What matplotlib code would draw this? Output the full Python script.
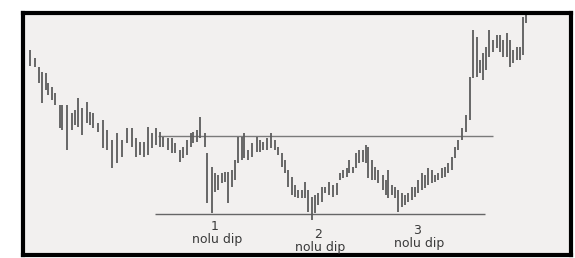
import matplotlib
matplotlib.use("Agg")
import matplotlib.pyplot as plt

# bar positions (time) and high / low prices
t = [30, 35, 39, 42, 46, 48, 52, 55, 60, 62, 67, 72, 75, 78, 82, 87, 90, 93, 98, 103,
     107, 112, 117, 122, 127, 132, 136, 140, 144, 148, 152, 156, 160, 163, 168, 172, 175, 180, 183, 187,
     191, 193, 197, 200, 205, 207, 212, 215, 218, 222, 225, 228, 232, 235, 238, 242, 244, 248, 252, 257,
     260, 263, 267, 271, 275, 278, 282, 285, 288, 292, 295, 298, 302, 305, 308, 312, 315, 318, 322, 325,
     329, 333, 337, 340, 343, 347, 349, 353, 356, 359, 363, 366, 368, 372, 375, 378, 383, 386, 388, 392,
     395, 398, 402, 405, 408, 412, 415, 418, 422, 425, 428, 432, 435, 438, 442, 445, 448, 452, 455, 458,
     462, 466, 470, 473, 477, 480, 483, 486, 489, 493, 497, 500, 503, 507, 510, 513, 517, 520, 523, 526]
high = [205, 197, 188, 183, 182, 172, 168, 162, 150, 150, 150, 142, 145, 157, 147, 153, 143, 142, 132, 135,
        125, 115, 122, 115, 127, 127, 117, 113, 113, 128, 122, 127, 123, 118, 117, 117, 112, 105, 108, 115,
        122, 123, 125, 138, 122, 102, 88, 82, 80, 82, 83, 83, 85, 95, 118, 118, 122, 105, 112, 118,
        115, 113, 117, 122, 115, 108, 102, 95, 85, 78, 70, 65, 65, 73, 65, 58, 60, 62, 68, 68,
        73, 70, 72, 82, 85, 87, 95, 88, 102, 105, 105, 110, 108, 95, 88, 85, 80, 75, 85, 70,
        68, 65, 62, 60, 62, 68, 68, 75, 82, 80, 87, 85, 80, 82, 87, 88, 92, 98, 108, 115,
        127, 140, 178, 225, 218, 195, 202, 208, 225, 215, 220, 220, 215, 222, 215, 205, 208, 208, 238, 250]
low = [189, 188, 172, 152, 165, 160, 155, 150, 127, 125, 105, 125, 130, 128, 120, 132, 130, 127, 123, 107,
       105, 87, 92, 98, 112, 108, 98, 100, 98, 100, 107, 110, 108, 108, 105, 102, 102, 93, 97, 100,
       108, 112, 113, 117, 108, 52, 42, 63, 65, 72, 73, 52, 68, 75, 92, 95, 97, 95, 98, 103,
       103, 105, 105, 107, 105, 100, 88, 82, 68, 60, 58, 57, 57, 57, 43, 35, 42, 50, 53, 62,
       60, 58, 60, 75, 77, 78, 82, 82, 87, 92, 93, 92, 77, 75, 75, 72, 65, 60, 57, 60,
       57, 43, 48, 50, 53, 55, 58, 62, 65, 67, 70, 72, 73, 75, 77, 78, 82, 85, 97, 105,
       115, 123, 135, 177, 178, 182, 175, 185, 198, 203, 207, 203, 198, 198, 188, 192, 195, 195, 200, 232]

resistance = 119
support = 41
dips = ["1", "2", "3"]
dip_t = [215, 318, 417]
dip_y = [28, 20, 24]

fig = plt.figure(figsize=(5.75, 2.58), dpi=100)
fig.patch.set_facecolor("white")
ax = fig.add_axes([23 / 575, 3 / 258, 548 / 575, 242 / 258])
ax.set_facecolor("#f2f0ef")

ax.hlines(resistance, 158, 493, color="#7a7a7a", lw=1.0, zorder=1)
ax.hlines(support, 155, 485, color="#666666", lw=1.0, zorder=1)
ax.vlines(t, low, high, color="#5c5c5c", lw=1.3, zorder=2)

for lab, x, y in zip(dips, dip_t, dip_y):
    ax.text(x, y, lab, ha="center", va="center", fontsize=9, color="#3a3a3a")
    ax.text(x + 2, y - 13, "nolu dip", ha="center", va="center", fontsize=9, color="#3a3a3a")

ax.set_xlim(23, 571)
ax.set_ylim(0, 242)
ax.set_xticks([])
ax.set_yticks([])
for s in ax.spines.values():
    s.set_linewidth(3)
    s.set_color("black")

fig.savefig("out.png", dpi=100)
